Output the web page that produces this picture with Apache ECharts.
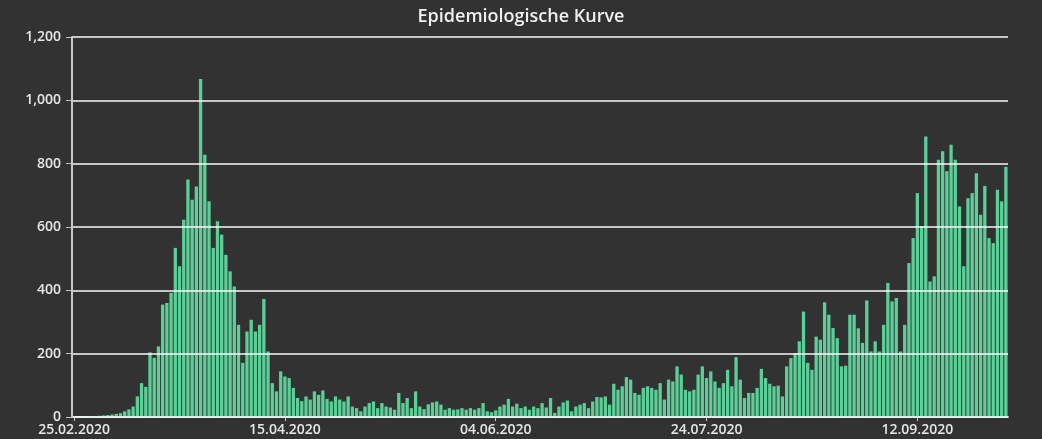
<!DOCTYPE html>
<html>
<head>
<meta charset="utf-8">
<script src="https://cdn.jsdelivr.net/npm/echarts@6/dist/echarts.min.js"></script>
<style>
html,body{margin:0;padding:0;background:#323232;}
#chart{width:1042px;height:439px;}
</style>
</head>
<body>
<div id="chart"></div>
<script>
// Title and axis labels
const chartTitle = 'Epidemiologische Kurve';
const startDate = [2020, 1, 25]; // 25.02.2020 (month index 1 = February)
const tickLabels = ['25.02.2020', '15.04.2020', '04.06.2020', '24.07.2020', '12.09.2020'];
const yTicks = [0, 200, 400, 600, 800, 1000, 1200];

// Daily case counts (25.02.2020 onwards)
const casesFebMar = [1, 0, 1, 2, 2, 3, 4, 5, 6, 8,
  10, 12, 18, 24, 33, 65, 107, 95, 204, 187, 223, 355, 360, 392, 534, 476, 623, 750, 686, 728,
  1067, 828, 681, 534, 618, 576, 512, 460, 412, 291, 171, 270, 307, 270, 291, 373, 207, 107, 81, 144,
  128, 123, 92, 60, 50];
const casesAprMay = [65, 55, 81, 70, 84, 57, 49, 65, 55, 49, 65, 33, 28, 18, 33, 44, 49, 28, 44, 33,
  30, 23, 76, 44, 60, 28, 81, 33, 25,
  40, 46, 49, 39, 23, 28, 23, 24, 28, 23, 28, 23, 28, 44, 18, 15, 21, 33, 39, 57, 33, 42, 28, 33, 23, 33, 28, 44, 30];
const casesJunJul = [60, 13, 33, 46, 52, 18, 33, 39, 44, 28, 49, 63, 62, 65, 39, 105, 86, 97, 126, 118,
  76, 70, 92, 97, 92, 86, 107, 55,
  118, 112, 160, 134, 86, 81, 86, 134, 160, 123, 144, 112, 92, 107, 149, 97, 189, 118, 60, 76, 76, 92,
  152, 123, 105, 97, 99, 65];
const casesAugSep = [160, 186, 202, 239, 333, 171, 149, 254, 244, 362, 323, 281, 249, 160, 162, 323, 323, 280,
  234, 368, 207, 239, 207, 291, 423, 365, 376,
  207, 291, 486, 565, 707, 602, 886, 428, 444, 812, 839, 776, 860, 812, 665, 476, 691, 707, 770, 639,
  730, 565, 549, 718, 681, 790];

const cases = [].concat(casesFebMar, casesAprMay, casesJunJul, casesAugSep);

function fmt(d) {
  const dd = String(d.getDate()).padStart(2, '0');
  const mm = String(d.getMonth() + 1).padStart(2, '0');
  return dd + '.' + mm + '.' + d.getFullYear();
}
const categories = cases.map((_, i) => fmt(new Date(startDate[0], startDate[1], startDate[2] + i)));

const chart = echarts.init(document.getElementById('chart'));
chart.setOption({
  backgroundColor: '#323232',
  animation: false,
  title: {
    text: chartTitle,
    left: 'center',
    top: 3,
    textStyle: { color: '#f0f0f0', fontSize: 18, fontWeight: 600, fontFamily: 'Open Sans' }
  },
  grid: { left: 72, right: 34, top: 37, bottom: 22, containLabel: false },
  xAxis: {
    type: 'category',
    data: categories,
    boundaryGap: true,
    axisLine: { lineStyle: { color: '#c8c8c8', width: 2 } },
    axisTick: { show: true, alignWithLabel: true, interval: 49, length: 4, lineStyle: { color: '#c8c8c8' } },
    axisLabel: {
      interval: 49,
      color: '#e6e6e6',
      fontSize: 14,
      fontWeight: 600,
      fontFamily: 'Open Sans',
      margin: 6,
      formatter: (v) => tickLabels.indexOf(v) >= 0 ? v : ''
    },
    splitLine: { show: false }
  },
  yAxis: {
    type: 'value',
    min: yTicks[0],
    max: yTicks[yTicks.length - 1],
    interval: 200,
    z: 3,
    axisLine: { show: true, lineStyle: { color: '#c8c8c8', width: 2 } },
    axisTick: { show: true, length: 6, lineStyle: { color: '#c8c8c8' } },
    axisLabel: {
      color: '#e6e6e6',
      fontSize: 14,
      fontWeight: 600,
      fontFamily: 'Open Sans',
      margin: 11,
      formatter: (v) => v.toLocaleString('en-US')
    },
    splitLine: { show: true, lineStyle: { color: 'rgba(255,255,255,0.72)', width: 2 } }
  },
  series: [{
    type: 'bar',
    data: cases,
    barCategoryGap: '22%',
    itemStyle: { color: '#5ccf98' }
  }]
});
</script>
</body>
</html>
